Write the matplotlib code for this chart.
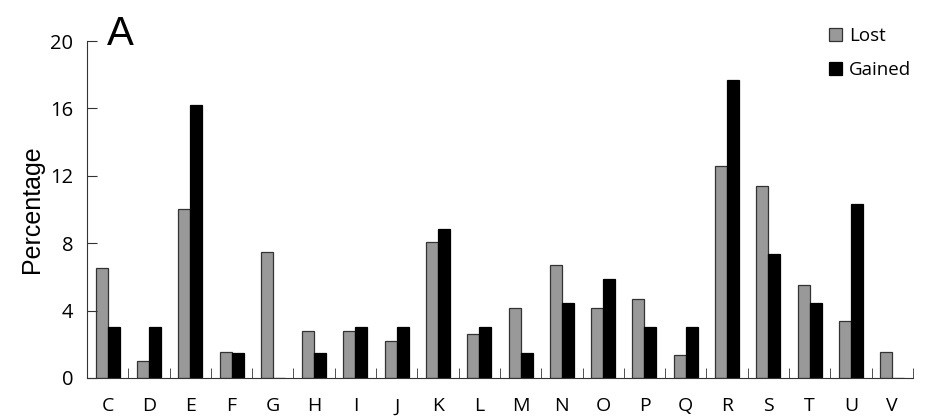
import matplotlib.pyplot as plt
import numpy as np

# --- Data --------------------------------------------------------------------
categories = ["C", "D", "E", "F", "G", "H", "I", "J", "K", "L",
              "M", "N", "O", "P", "Q", "R", "S", "T", "U", "V"]
lost = [6.5, 1.0, 10.0, 1.56, 7.47, 2.79, 2.79, 2.21, 8.06, 2.59,
        4.13, 6.72, 4.13, 4.70, 1.34, 12.59, 11.40, 5.49, 3.36, 1.56]
gained = [3.0, 3.0, 16.2, 1.5, 0.0, 1.5, 3.0, 3.0, 8.85, 3.0,
          1.5, 4.47, 5.87, 3.0, 3.0, 17.69, 7.35, 4.47, 10.32, 0.0]
yticks = [0, 4, 8, 12, 16, 20]

# --- Plot --------------------------------------------------------------------
fig = plt.figure(figsize=(9.31, 4.19), dpi=100)
ax = fig.add_axes([0.0935, 0.098, 0.887, 0.804])

x = np.arange(len(categories))
w = 0.29
ax.bar(x - w / 2, lost, w, color="#999999", edgecolor="#333333",
       linewidth=0.9, label="Lost")
ax.bar(x + w / 2, gained, w, color="black", edgecolor="black",
       linewidth=0.9, label="Gained")

ax.set_xlim(-0.5, len(categories) - 0.5)
ax.set_ylim(0, 20)
ax.spines[["top", "right"]].set_visible(False)
ax.spines[["left", "bottom"]].set_color("#333333")

ax.set_yticks(yticks)
ax.set_yticklabels([str(v) for v in yticks], family="Open Sans", fontsize=14.5)
ax.tick_params(axis="y", direction="in", length=7, pad=10, color="#333333")

# category labels centred, ticks at the category boundaries
ax.set_xticks(x)
ax.set_xticklabels(categories, family="Open Sans", fontsize=14)
ax.tick_params(axis="x", which="major", length=0, pad=14)
ax.set_xticks(np.arange(0.5, len(categories)), minor=True)
ax.tick_params(axis="x", which="minor", direction="in", length=7,
               color="#333333")

ax.set_ylabel("Percentage", family="Liberation Sans", fontsize=18, labelpad=4)
fig.text(0.115, 0.893, "A", family="Liberation Sans", fontsize=29)

leg = ax.legend(loc="upper right", bbox_to_anchor=(1.018, 1.092), frameon=False,
                prop={"family": "Open Sans", "size": 13.5},
                handlelength=0.7, handleheight=0.7, handletextpad=0.35,
                labelspacing=0.85)

plt.savefig("out.png", dpi=100)
plt.close(fig)
